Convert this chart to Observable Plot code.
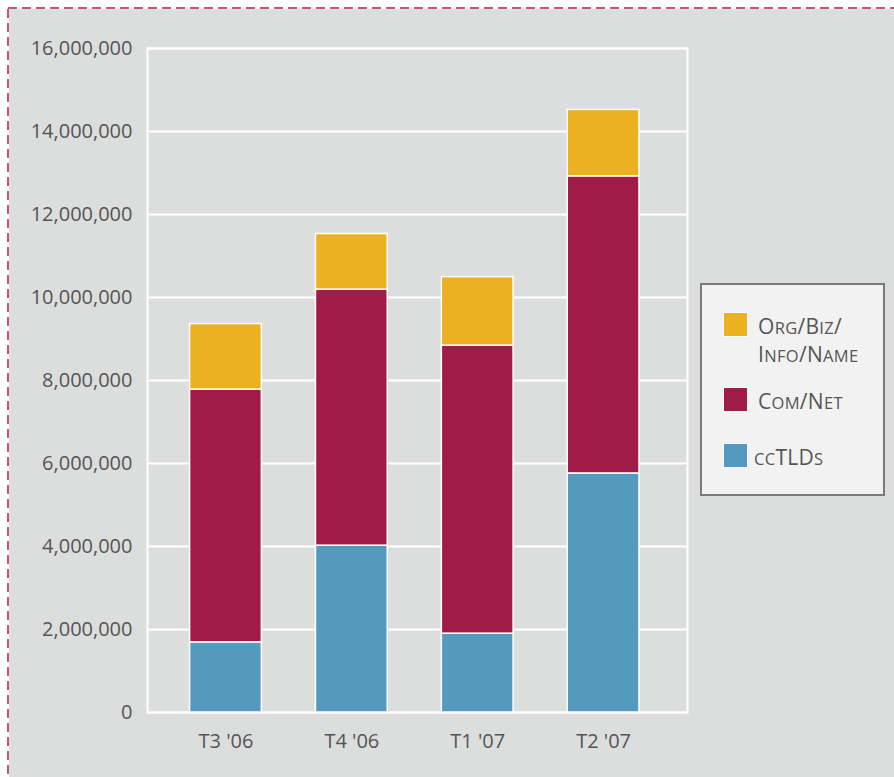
<!DOCTYPE html>
<html>
<head>
<meta charset="utf-8">
<script src="https://cdn.jsdelivr.net/npm/d3@7"></script>
<script src="https://cdn.jsdelivr.net/npm/@observablehq/plot@0.6"></script>
<style>
  html, body { margin: 0; padding: 0; background: #ffffff; }
  #wrap { position: relative; width: 894px; height: 777px; overflow: hidden; font-family: "Open Sans", sans-serif; }
  #bg { position: absolute; left: 9px; top: 9px; width: 900px; height: 800px; background: #dcdedd; }
  #border { position: absolute; left: 0; top: 0; }
  #chart { position: absolute; left: 0; top: 0; }
  #legend { position: absolute; left: 700px; top: 283px; width: 181px; height: 209px; background: #f2f2f2; border: 2px solid #7a7a7a; }
  .item { position: absolute; left: 21px; }
  .sw { width: 25px; height: 25px; border: 1.5px solid #ffffff; box-sizing: border-box; }
  .lab { position: absolute; left: 35px; line-height: 26px; color: #555555; white-space: nowrap; letter-spacing: 0.3px; }
  .cap { font-size: 21px; }
  .sc { font-size: 16.5px; }
</style>
</head>
<body>
<div id="wrap">
  <div id="bg"></div>
  <svg id="border" width="894" height="777"><rect x="8" y="8" width="1000" height="1000" fill="none" stroke="#c0194a" stroke-width="1.5" stroke-dasharray="9,5"></rect></svg>
  <div id="chart"></div>
  <div id="legend"></div>
</div>
<script>
const quarters = ["T3 '06", "T4 '06", "T1 '07", "T2 '07"];
const seriesNames = ["ccTLDs", "Com/Net", "Org/Biz/Info/Name"];
const ccTLDs = [1690000, 4020000, 1900000, 5760000];
const comNet = [6090000, 6170000, 6940000, 7160000];
const orgBiz = [1580000, 1340000, 1650000, 1600000];
const colors = ["#5499be", "#a11b49", "#ecb120"];
const yTicks = [0, 2000000, 4000000, 6000000, 8000000, 10000000, 12000000, 14000000, 16000000];

const seriesValues = [ccTLDs, comNet, orgBiz];
const data = [];
quarters.forEach((q, i) => {
  seriesNames.forEach((s, j) => data.push({quarter: q, series: s, value: seriesValues[j][i]}));
});

const chart = Plot.plot({
  width: 700,
  height: 777,
  marginLeft: 147,
  marginRight: 13,
  marginTop: 48,
  marginBottom: 65,
  style: {background: "transparent", fontFamily: "Open Sans, sans-serif", fontSize: "20px", color: "#555555"},
  x: {domain: quarters, paddingInner: 0.43, paddingOuter: 0.36, align: 0.47, round: false, label: null},
  y: {domain: [0, 16000000], label: null},
  color: {domain: seriesNames, range: colors},
  marks: [
    Plot.gridY(yTicks, {stroke: "#ffffff", strokeOpacity: 1, strokeWidth: 2}),
    Plot.frame({stroke: "#ffffff", strokeWidth: 2}),
    Plot.barY(data, {x: "quarter", y: "value", fill: "series", stroke: "#ffffff", strokeWidth: 1.5}),
    Plot.axisY(yTicks, {tickSize: 0, tickPadding: 15, tickFormat: d3.format(","), label: null, fill: "#555555", fontSize: 20}),
    Plot.axisX({tickSize: 0, tickPadding: 21, label: null, fill: "#555555", fontSize: 20})
  ]
});
document.getElementById("chart").appendChild(chart);

// small-caps rendering of legend labels
function smallCaps(str) {
  return Array.from(str).map(ch => {
    if (ch >= "a" && ch <= "z") return `<span class="sc">${ch.toUpperCase()}</span>`;
    return `<span class="cap">${ch}</span>`;
  }).join("");
}

const legend = document.getElementById("legend");
const legendItems = [
  {lines: ["Org/Biz/", "Info/Name"], top: 27, color: colors[2]},
  {lines: ["Com/Net"], top: 102, color: colors[1]},
  {lines: ["ccTLDs"], top: 158, color: colors[0]}
];
legendItems.forEach((it, k) => {
  const d = document.createElement("div");
  d.className = "item";
  d.style.top = it.top + "px";
  const sw = document.createElement("div");
  sw.className = "sw";
  sw.style.background = it.color;
  d.appendChild(sw);
  const lab = document.createElement("div");
  lab.className = "lab";
  lab.style.top = "1px";
  if (k === 2) lab.style.left = "31px";
  lab.innerHTML = it.lines.map(smallCaps).join("<br>");
  d.appendChild(lab);
  legend.appendChild(d);
});
</script>
</body>
</html>
